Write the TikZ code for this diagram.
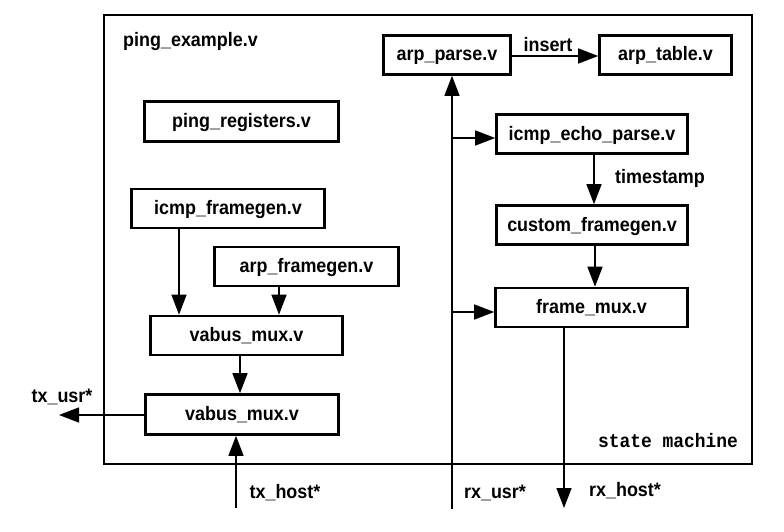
\documentclass[tikz,border=0pt]{standalone}
\usepackage{fontspec}
\setmainfont[FakeStretch=0.92]{Liberation Sans}
\newfontfamily\monob[FakeStretch=0.92]{Liberation Mono}
\usetikzlibrary{arrows.meta}
\tikzset{
  blk/.style={draw, line width=2.6pt, minimum width=#1, minimum height=39pt, inner sep=0pt, text height=12pt, text depth=0pt, font=\fontsize{19.5}{22}\selectfont\bfseries},
  lbl/.style={inner sep=0pt, font=\fontsize{19.5}{22}\selectfont\bfseries},
  conn/.style={line width=1.4pt, -{Triangle[length=20pt,width=15pt]}},
}
\begin{document}
\begin{tikzpicture}[x=1pt,y=-1pt]
\useasboundingbox (0,0) rectangle (784,532);
% outer frame
\draw[line width=2.8pt] (104,15) rectangle (752,464);
\node[lbl, anchor=base west] (title) at (123,47) {ping\_example.v};
\node[lbl, anchor=center] (sm) at (668,441) {\monob\bfseries state machine};
% right side blocks
\node[blk=127pt] (arpparse) at (447,55) {arp\_parse.v};
\node[blk=132pt] (arptable) at (665.5,55) {arp\_table.v};
\node[blk=191pt] (icmpecho) at (592,134) {icmp\_echo\_parse.v};
\node[blk=191pt] (custom) at (592,225) {custom\_framegen.v};
\node[blk=192pt] (framemux) at (591.5,307.5) {frame\_mux.v};
% left side blocks
\node[blk=194pt, minimum height=40pt] (pingreg) at (241.5,121.5) {ping\_registers.v};
\node[blk=193pt] (icmpfg) at (228,208.5) {icmp\_framegen.v};
\node[blk=184pt] (arpfg) at (306.5,266.5) {arp\_framegen.v};
\node[blk=192pt] (vabus1) at (246.5,335.5) {vabus\_mux.v};
\node[blk=193pt, minimum height=40pt] (vabus2) at (242,414.5) {vabus\_mux.v};
% coordinates
\coordinate (rxbot) at (452,509);
\coordinate (br1) at (452,138);
\coordinate (br2) at (452,312);
\coordinate (rxhost) at (564,508);
\coordinate (txusr) at (59,415);
\coordinate (txhost) at (236,508);
% right connectors
\draw[conn] (rxbot) -- (rxbot |- arpparse.south);
\draw[conn] (br1) -- (br1 -| icmpecho.west);
\draw[conn] (br2) -- (br2 -| framemux.west);
\draw[conn] (arpparse.east |- 0,56) -- (arptable.west |- 0,56);
\draw[conn] (icmpecho.south -| 594,0) -- (custom.north -| 594,0);
\draw[conn] (custom.south -| 595,0) -- (framemux.north -| 595,0);
\draw[conn] (framemux.south -| rxhost) -- (rxhost);
% left connectors
\draw[conn] (icmpfg.south -| 179,0) -- (vabus1.north -| 179,0);
\draw[conn] (arpfg.south -| 279,0) -- (vabus1.north -| 279,0);
\draw[conn] (vabus1.south -| 240,0) -- (vabus2.north -| 240,0);
\draw[conn] (vabus2.west |- txusr) -- (txusr);
\draw[conn] (txhost) -- (txhost |- vabus2.south);
% labels
\node[lbl] (ins) at (548,45) {insert};
\node[lbl] (ts) at (660,178) {timestamp};
\node[lbl] (txu) at (62,397) {tx\_usr*};
\node[lbl] (txh) at (285,493) {tx\_host*};
\node[lbl] (rxu) at (495,493) {rx\_usr*};
\node[lbl] (rxh) at (625,491) {rx\_host*};
\end{tikzpicture}
\end{document}
